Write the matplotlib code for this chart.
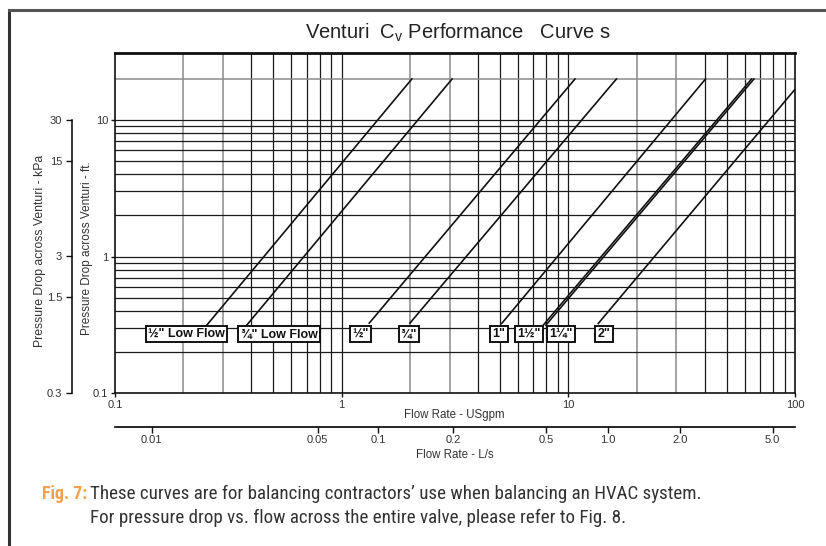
import matplotlib
matplotlib.use("Agg")
import matplotlib.pyplot as plt
from matplotlib.ticker import FixedLocator, NullLocator, FixedFormatter
from matplotlib.lines import Line2D

# ---------------- data ----------------
sizes = ['½" Low Flow', '¾" Low Flow', '½"', '¾"', '1"', '1½"', '1¼"', '2"']
q_low = [0.254, 0.381, 1.323, 2.00, 5.08, 7.75, 7.96, 13.55]      # USgpm at lower end
dp_low = [0.314, 0.314, 0.325, 0.325, 0.323, 0.314, 0.314, 0.323]  # ft at lower end
q_high = [2.04, 3.07, 10.7, 16.3, 40.3, 64.3, 65.9, 100.0]         # USgpm at upper end
dp_high = [20, 20, 20, 20, 20, 20, 20, 16.8]                       # ft at upper end
label_q = [0.207, 0.529, 1.216, 1.981, 4.94, 6.70, 9.28, 14.36]
label_dp = 0.27

x_ticks = [0.1, 1, 10, 100]
x_ticklabels = ['0.1', '1', '10', '100']
y_ticks = [0.1, 1, 10]
y_ticklabels = ['0.1', '1', '10']
kpa_ticks = [0.3, 1.5, 3, 15, 30]
kpa_ticklabels = ['0.3', '1.5', '3', '15', '30']
lps_tick_pos = [0.1452, 0.7836, 1.450, 3.107, 7.96, 14.9, 31.07, 79.6]  # in USgpm
lps_ticklabels = ['0.01', '0.05', '0.1', '0.2', '0.5', '1.0', '2.0', '5.0']

grid_x_gray = [0.2, 0.3, 2, 3, 20, 30]
grid_x_dark = [0.4, 0.5, 0.6, 0.7, 0.8, 0.9, 1, 4, 5, 6, 7, 8, 9, 10, 40, 50, 60, 70, 80, 90]
grid_y_dark = [0.2, 0.3, 0.4, 0.5, 0.6, 0.7, 0.8, 0.9, 1, 2, 3, 4, 5, 6, 7, 8, 9, 10]
grid_y_gray = [20]

FT_TO_KPA = 2.989

# ---------------- figure ----------------
W, H = 826, 546
fig = plt.figure(figsize=(W / 100, H / 100), dpi=100)
fig.patch.set_facecolor('white')

plt.rcParams['font.family'] = ['Liberation Sans', 'DejaVu Sans']

ax = fig.add_axes([115 / W, 1 - 393 / H, 680 / W, 340 / H])
ax.set_xscale('log')
ax.set_yscale('log')
ax.set_xlim(0.1, 100)
ax.set_ylim(0.1, 31)

for v in grid_x_gray:
    ax.axvline(v, color='#8a8a8a', lw=1.1, zorder=1)
for v in grid_x_dark:
    ax.axvline(v, color='#1a1a1a', lw=0.9, zorder=1)
for v in grid_y_dark:
    ax.axhline(v, color='#1a1a1a', lw=0.9, zorder=1)
for v in grid_y_gray:
    ax.axhline(v, color='#8a8a8a', lw=1.1, zorder=1)

for ql, dl, qh, dh in zip(q_low, dp_low, q_high, dp_high):
    ax.plot([ql, qh], [dl, dh], color='#111111', lw=1.2, zorder=3, clip_on=True)

for s, q in zip(sizes, label_q):
    ax.text(q, label_dp, s, ha='center', va='center', fontsize=9, fontweight='bold',
            color='#111111', zorder=5,
            bbox=dict(boxstyle='square,pad=0.18', fc='white', ec='#111111', lw=1.4))

for sp in ax.spines.values():
    sp.set_color('#111111')
    sp.set_linewidth(1.2)
ax.spines['top'].set_linewidth(2.0)

ax.xaxis.set_major_locator(FixedLocator(x_ticks))
ax.xaxis.set_major_formatter(FixedFormatter(x_ticklabels))
ax.xaxis.set_minor_locator(NullLocator())
ax.yaxis.set_major_locator(FixedLocator(y_ticks))
ax.yaxis.set_major_formatter(FixedFormatter(y_ticklabels))
ax.yaxis.set_minor_locator(NullLocator())
ax.tick_params(axis='both', which='major', direction='out', length=3, width=1,
               pad=2, labelsize=8, colors='#111111', labelcolor='#333333')

# kPa axis
sec_y = ax.secondary_yaxis(-43 / 680, functions=(lambda f: f * FT_TO_KPA, lambda k: k / FT_TO_KPA))
sec_y.yaxis.set_major_locator(FixedLocator(kpa_ticks))
sec_y.yaxis.set_major_formatter(FixedFormatter(kpa_ticklabels))
sec_y.yaxis.set_minor_locator(NullLocator())
sec_y.tick_params(axis='y', direction='out', length=4, width=1, pad=3, labelsize=8,
                  colors='#111111', labelcolor='#333333')
sec_y.spines['left'].set_bounds(0.1 * FT_TO_KPA, 10 * FT_TO_KPA)
sec_y.spines['left'].set_linewidth(1.1)

# L/s axis
sec_x = ax.secondary_xaxis(-34 / 340)
sec_x.xaxis.set_major_locator(FixedLocator(lps_tick_pos))
sec_x.xaxis.set_major_formatter(FixedFormatter(lps_ticklabels))
sec_x.xaxis.set_minor_locator(NullLocator())
sec_x.tick_params(axis='x', direction='out', length=4, width=1, pad=2, labelsize=8,
                  colors='#111111', labelcolor='#333333')
sec_x.spines['bottom'].set_linewidth(1.2)

# axis titles
fig.text(454 / W, 1 - 415 / H, 'Flow Rate - USgpm', ha='center', va='center',
         fontsize=8.3, color='#333333')
fig.text(455 / W, 1 - 455 / H, 'Flow Rate - L/s', ha='center', va='center',
         fontsize=8.3, color='#333333')
fig.text(40 / W, 1 - 251 / H, 'Pressure Drop across Venturi - kPa', ha='center', va='center',
         rotation=90, fontsize=8.8, color='#333333')
fig.text(87 / W, 1 - 248 / H, 'Pressure Drop across Venturi - ft.', ha='center', va='center',
         rotation=90, fontsize=8.5, color='#333333')

# title
fig.text(458 / W, 1 - 33 / H, r'Venturi  C$_{\mathregular{v}}$ Performance   Curve s',
         ha='center', va='center', fontsize=14.5, color='#222222')

# caption
cap_font = ['Roboto Condensed', 'Liberation Sans', 'DejaVu Sans']
fig.text(42 / W, 1 - 494 / H, 'Fig. 7:', ha='left', va='center', fontsize=12.8,
         fontweight='bold', color='#F5A04A', family=cap_font)
fig.text(90 / W, 1 - 494 / H,
         'These curves are for balancing contractors\u2019 use when balancing an HVAC system.',
         ha='left', va='center', fontsize=13.7, color='#333333', family=cap_font)
fig.text(90 / W, 1 - 518 / H,
         'For pressure drop vs. flow across the entire valve, please refer to Fig. 8.',
         ha='left', va='center', fontsize=13.7, color='#333333', family=cap_font)

# outer frame
fig.add_artist(Line2D([9 / W, 9 / W], [0, 1 - 10 / H], transform=fig.transFigure,
                      color='#333333', lw=2.2))
fig.add_artist(Line2D([9 / W, 1], [1 - 10 / H, 1 - 10 / H], transform=fig.transFigure,
                      color='#555555', lw=2.2))

fig.savefig('out.png', dpi=100, facecolor='white')
